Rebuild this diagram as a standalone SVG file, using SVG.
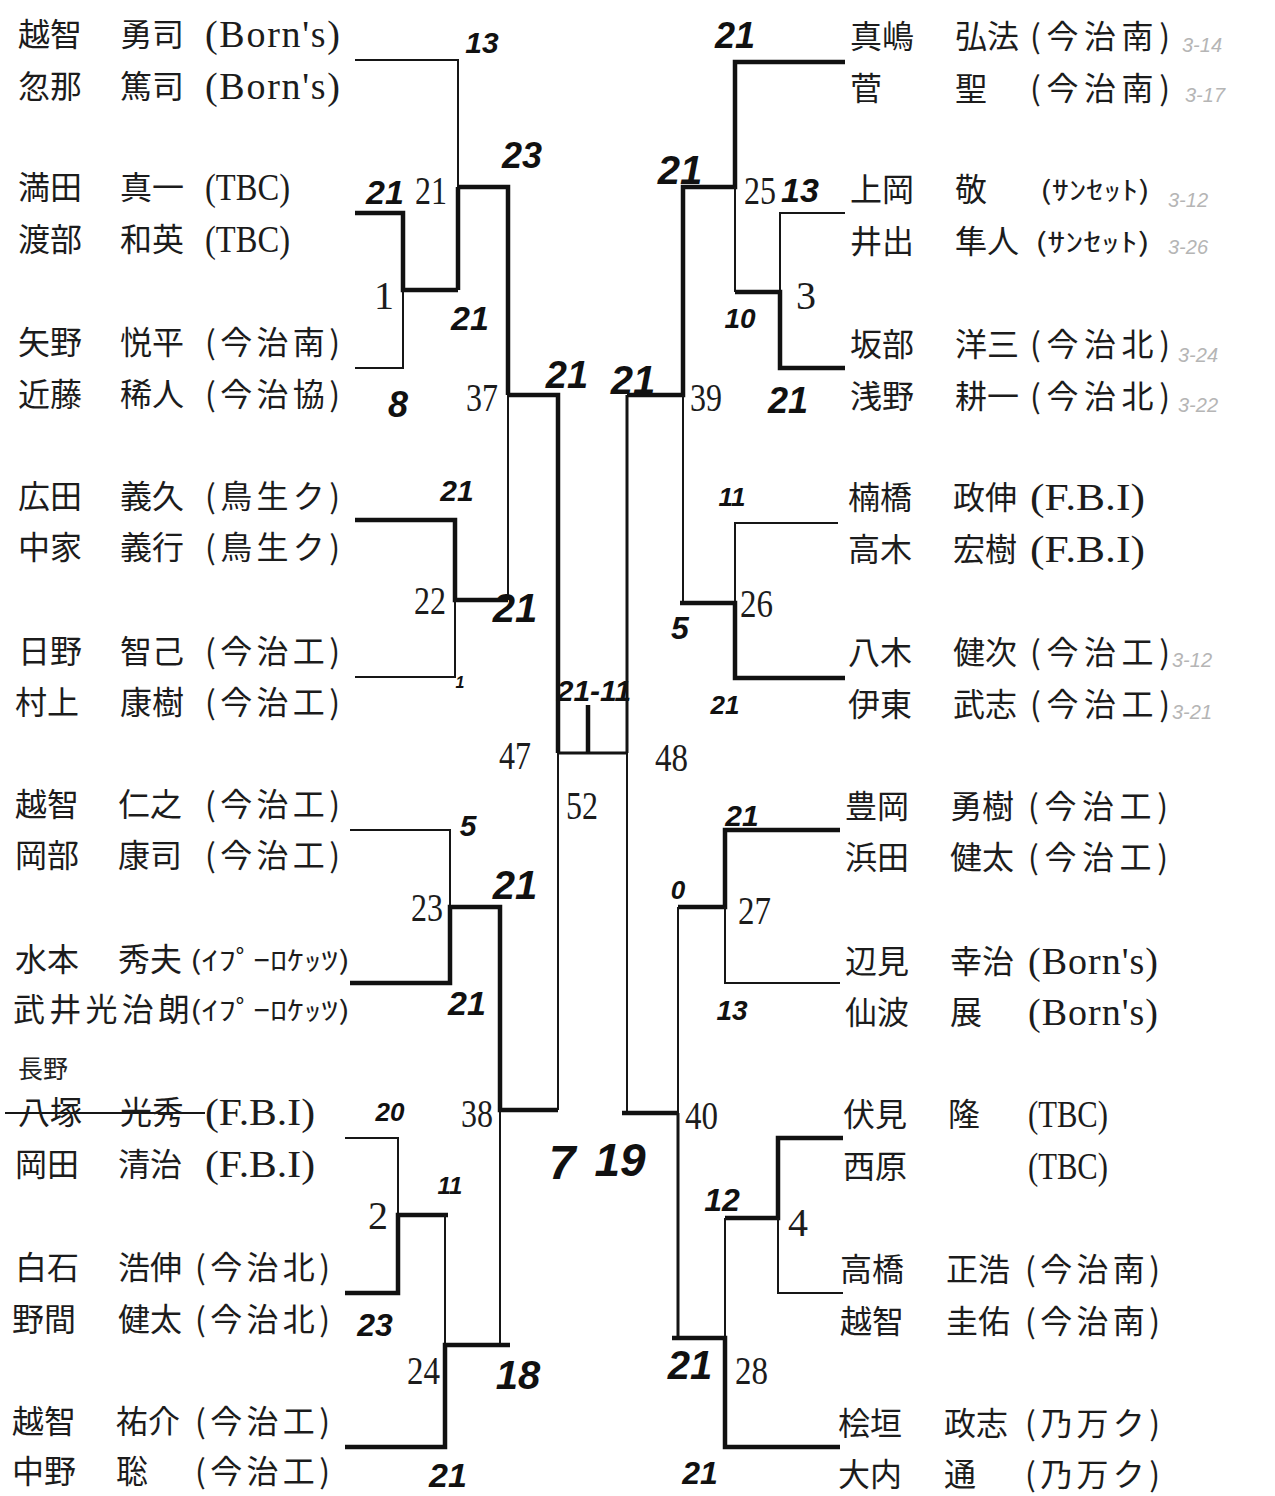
<svg xmlns="http://www.w3.org/2000/svg" width="1275" height="1496" viewBox="0 0 1275 1496">
<style>
.jp{font-family:"Noto Sans CJK JP","Noto Sans CJK SC",sans-serif;font-size:32px;fill:#1c1c1c}
.kn{font-family:"Noto Sans CJK JP","Noto Sans CJK SC",sans-serif;font-size:26px;fill:#1c1c1c}
.lat{font-family:"Liberation Serif",serif;font-size:38px;fill:#1c1c1c}
.num{font-family:"Liberation Serif",serif;font-size:40px;fill:#1c1c1c}
.hw{font-family:"Liberation Sans",sans-serif;font-style:italic;font-weight:bold;fill:#111;text-anchor:middle;dominant-baseline:central}
.hj{font-family:"Noto Sans CJK JP",sans-serif;font-size:25px;fill:#222}
.faint{font-family:"Liberation Sans",sans-serif;font-style:italic;font-size:20px;fill:#b5b5b5;dominant-baseline:central}
.ln{stroke:#161616;stroke-width:2;fill:none}
.md{stroke:#141414;stroke-width:3;fill:none}
.tk{stroke:#111;stroke-width:4.5;fill:none}
</style>
<rect width="1275" height="1496" fill="#ffffff"/>

<g id="connectors">
<path class="ln" d="M355,60 H458 V187"/>
<path class="tk" d="M458,187 V290"/>
<path class="tk" d="M355,213 H403 V290 H458"/>
<path class="ln" d="M403,290 V368 H355"/>
<path class="tk" d="M458,187 H508 V395"/>
<path class="ln" d="M508,395 V600"/>
<path class="tk" d="M508,395 H558 V753"/>
<path class="tk" d="M355,520 H455 V600 H508"/>
<path class="ln" d="M455,600 V677 H355"/>
<path class="ln" d="M558,753 V1110"/>
<path class="ln" d="M350,830 H450 V907"/>
<path class="tk" d="M350,983 H450 V907 H500 V1110 H558"/>
<path class="ln" d="M500,1110 V1345"/>
<path class="ln" d="M345,1138 H398 V1215"/>
<path class="tk" d="M345,1293 H398 V1215 H448"/>
<path class="ln" d="M445,1215 V1345"/>
<path class="tk" d="M345,1447 H445 V1345 H510"/>
<path class="md" d="M558,753 H627"/>
<path class="tk" d="M588,705 V753"/>
<path class="md" d="M627,395 V753"/>
<path class="tk" d="M845,62 H735 V187 H683 V395 H627"/>
<path class="ln" d="M735,187 V292"/>
<path class="ln" d="M845,213 H780 V292"/>
<path class="tk" d="M845,368 H780 V292 H735"/>
<path class="ln" d="M683,395 V603"/>
<path class="ln" d="M838,523 H735 V603"/>
<path class="tk" d="M845,678 H735 V603 H680"/>
<path class="ln" d="M627,753 V1113"/>
<path class="tk" d="M840,830 H725 V907 H678"/>
<path class="ln" d="M725,907 V983 H840"/>
<path class="ln" d="M678,907 V1113"/>
<path class="tk" d="M622,1113 H678"/>
<path class="md" d="M678,1113 V1338"/>
<path class="tk" d="M843,1138 H778 V1218 H725"/>
<path class="ln" d="M778,1218 V1293 H843"/>
<path class="ln" d="M725,1218 V1338"/>
<path class="tk" d="M840,1447 H725 V1338 H672"/>
<path class="ln" d="M5,1113 H205"/>
</g>

<g id="players-left">
<g id="pL01"><text class="jp" x="18" y="46">越智</text><text class="jp" x="120" y="46">勇司</text><text class="lat" x="205" y="47" textLength="135" lengthAdjust="spacing">(Born's)</text></g>
<g id="pL02"><text class="jp" x="18" y="98">忽那</text><text class="jp" x="120" y="98">篤司</text><text class="lat" x="205" y="99" textLength="135" lengthAdjust="spacing">(Born's)</text></g>
<g id="pL03"><text class="jp" x="18" y="199">満田</text><text class="jp" x="120" y="199">真一</text><text class="lat" x="205" y="200" textLength="85" lengthAdjust="spacingAndGlyphs">(TBC)</text></g>
<g id="pL04"><text class="jp" x="18" y="251">渡部</text><text class="jp" x="120" y="251">和英</text><text class="lat" x="205" y="252" textLength="85" lengthAdjust="spacingAndGlyphs">(TBC)</text></g>
<g id="pL05"><text class="jp" x="18" y="354">矢野</text><text class="jp" x="120" y="354">悦平</text><text class="jp" x="205" y="354" textLength="135" lengthAdjust="spacing">(今治南)</text></g>
<g id="pL06"><text class="jp" x="18" y="406">近藤</text><text class="jp" x="120" y="406">稀人</text><text class="jp" x="205" y="406" textLength="135" lengthAdjust="spacing">(今治協)</text></g>
<g id="pL07"><text class="jp" x="18" y="508">広田</text><text class="jp" x="120" y="508">義久</text><text class="jp" x="205" y="508" textLength="135" lengthAdjust="spacing">(鳥生ク)</text></g>
<g id="pL08"><text class="jp" x="18" y="559">中家</text><text class="jp" x="120" y="559">義行</text><text class="jp" x="205" y="559" textLength="135" lengthAdjust="spacing">(鳥生ク)</text></g>
<g id="pL09"><text class="jp" x="18" y="663">日野</text><text class="jp" x="120" y="663">智己</text><text class="jp" x="205" y="663" textLength="135" lengthAdjust="spacing">(今治工)</text></g>
<g id="pL10"><text class="jp" x="15" y="714">村上</text><text class="jp" x="120" y="714">康樹</text><text class="jp" x="205" y="714" textLength="135" lengthAdjust="spacing">(今治工)</text></g>
<g id="pL11"><text class="jp" x="15" y="816">越智</text><text class="jp" x="118" y="816">仁之</text><text class="jp" x="205" y="816" textLength="135" lengthAdjust="spacing">(今治工)</text></g>
<g id="pL12"><text class="jp" x="15" y="867">岡部</text><text class="jp" x="118" y="867">康司</text><text class="jp" x="205" y="867" textLength="135" lengthAdjust="spacing">(今治工)</text></g>
<g id="pL13"><text class="jp" x="15" y="971">水本</text><text class="jp" x="118" y="971">秀夫</text><text class="kn" x="190" y="970" textLength="160" lengthAdjust="spacingAndGlyphs">(ｲﾌﾟｰﾛｹｯﾂ)</text></g>
<g id="pL14"><text class="jp" x="13" y="1021" textLength="177" lengthAdjust="spacing">武井光治朗</text><text class="kn" x="190" y="1020" textLength="160" lengthAdjust="spacingAndGlyphs">(ｲﾌﾟｰﾛｹｯﾂ)</text></g>
<g id="pL15"><text class="hj" x="18" y="1078">長野</text><text class="jp" x="18" y="1124">八塚</text><text class="jp" x="120" y="1124">光秀</text><text class="lat" x="205" y="1125" textLength="110" lengthAdjust="spacingAndGlyphs">(F.B.I)</text></g>
<g id="pL16"><text class="jp" x="15" y="1176">岡田</text><text class="jp" x="118" y="1176">清治</text><text class="lat" x="205" y="1177" textLength="110" lengthAdjust="spacingAndGlyphs">(F.B.I)</text></g>
<g id="pL17"><text class="jp" x="15" y="1279">白石</text><text class="jp" x="118" y="1279">浩伸</text><text class="jp" x="195" y="1279" textLength="135" lengthAdjust="spacing">(今治北)</text></g>
<g id="pL18"><text class="jp" x="12" y="1331">野間</text><text class="jp" x="118" y="1331">健太</text><text class="jp" x="195" y="1331" textLength="135" lengthAdjust="spacing">(今治北)</text></g>
<g id="pL19"><text class="jp" x="12" y="1433">越智</text><text class="jp" x="116" y="1433">祐介</text><text class="jp" x="195" y="1433" textLength="135" lengthAdjust="spacing">(今治工)</text></g>
<g id="pL20"><text class="jp" x="12" y="1483">中野</text><text class="jp" x="116" y="1483">聡</text><text class="jp" x="195" y="1483" textLength="135" lengthAdjust="spacing">(今治工)</text></g>
</g>

<g id="players-right">
<g id="pR01"><text class="jp" x="850" y="48">真嶋</text><text class="jp" x="955" y="48">弘法</text><text class="jp" x="1030" y="48" textLength="140" lengthAdjust="spacing">(今治南)</text></g>
<g id="pR02"><text class="jp" x="850" y="100">菅</text><text class="jp" x="955" y="100">聖</text><text class="jp" x="1030" y="100" textLength="140" lengthAdjust="spacing">(今治南)</text></g>
<g id="pR03"><text class="jp" x="850" y="201">上岡</text><text class="jp" x="955" y="201">敬</text><text class="kn" x="1040" y="200" font-size="22" textLength="110" lengthAdjust="spacingAndGlyphs">(ｻﾝｾｯﾄ)</text></g>
<g id="pR04"><text class="jp" x="850" y="253">井出</text><text class="jp" x="955" y="253">隼人</text><text class="kn" x="1035" y="252" font-size="22" textLength="115" lengthAdjust="spacingAndGlyphs">(ｻﾝｾｯﾄ)</text></g>
<g id="pR05"><text class="jp" x="850" y="356">坂部</text><text class="jp" x="955" y="356">洋三</text><text class="jp" x="1030" y="356" textLength="140" lengthAdjust="spacing">(今治北)</text></g>
<g id="pR06"><text class="jp" x="850" y="408">浅野</text><text class="jp" x="955" y="408">耕一</text><text class="jp" x="1030" y="408" textLength="140" lengthAdjust="spacing">(今治北)</text></g>
<g id="pR07"><text class="jp" x="848" y="509">楠橋</text><text class="jp" x="953" y="509">政伸</text><text class="lat" x="1030" y="510" textLength="115" lengthAdjust="spacingAndGlyphs">(F.B.I)</text></g>
<g id="pR08"><text class="jp" x="848" y="561">高木</text><text class="jp" x="953" y="561">宏樹</text><text class="lat" x="1030" y="562" textLength="115" lengthAdjust="spacingAndGlyphs">(F.B.I)</text></g>
<g id="pR09"><text class="jp" x="848" y="664">八木</text><text class="jp" x="953" y="664">健次</text><text class="jp" x="1030" y="664" textLength="140" lengthAdjust="spacing">(今治工)</text></g>
<g id="pR10"><text class="jp" x="848" y="716">伊東</text><text class="jp" x="953" y="716">武志</text><text class="jp" x="1030" y="716" textLength="140" lengthAdjust="spacing">(今治工)</text></g>
<g id="pR11"><text class="jp" x="845" y="818">豊岡</text><text class="jp" x="950" y="818">勇樹</text><text class="jp" x="1028" y="818" textLength="140" lengthAdjust="spacing">(今治工)</text></g>
<g id="pR12"><text class="jp" x="845" y="869">浜田</text><text class="jp" x="950" y="869">健太</text><text class="jp" x="1028" y="869" textLength="140" lengthAdjust="spacing">(今治工)</text></g>
<g id="pR13"><text class="jp" x="845" y="973">辺見</text><text class="jp" x="950" y="973">幸治</text><text class="lat" x="1028" y="974" textLength="130" lengthAdjust="spacing">(Born's)</text></g>
<g id="pR14"><text class="jp" x="845" y="1024">仙波</text><text class="jp" x="950" y="1024">展</text><text class="lat" x="1028" y="1025" textLength="130" lengthAdjust="spacing">(Born's)</text></g>
<g id="pR15"><text class="jp" x="843" y="1126">伏見</text><text class="jp" x="948" y="1126">隆</text><text class="lat" x="1028" y="1127" textLength="80" lengthAdjust="spacingAndGlyphs">(TBC)</text></g>
<g id="pR16"><text class="jp" x="843" y="1178">西原</text><text class="lat" x="1028" y="1179" textLength="80" lengthAdjust="spacingAndGlyphs">(TBC)</text></g>
<g id="pR17"><text class="jp" x="840" y="1281">高橋</text><text class="jp" x="946" y="1281">正浩</text><text class="jp" x="1025" y="1281" textLength="135" lengthAdjust="spacing">(今治南)</text></g>
<g id="pR18"><text class="jp" x="840" y="1333">越智</text><text class="jp" x="946" y="1333">圭佑</text><text class="jp" x="1025" y="1333" textLength="135" lengthAdjust="spacing">(今治南)</text></g>
<g id="pR19"><text class="jp" x="838" y="1435">桧垣</text><text class="jp" x="944" y="1435">政志</text><text class="jp" x="1025" y="1435" textLength="135" lengthAdjust="spacing">(乃万ク)</text></g>
<g id="pR20"><text class="jp" x="838" y="1486">大内</text><text class="jp" x="944" y="1486">通</text><text class="jp" x="1025" y="1486" textLength="135" lengthAdjust="spacing">(乃万ク)</text></g>
</g>

<g id="matches">
<g id="m21"><text class="num" x="447" y="204" text-anchor="end" textLength="32" lengthAdjust="spacingAndGlyphs">21</text></g>
<g id="m1"><text class="num" x="394" y="309" text-anchor="end">1</text></g>
<g id="m37"><text class="num" x="498" y="411" text-anchor="end" textLength="32" lengthAdjust="spacingAndGlyphs">37</text></g>
<g id="m22"><text class="num" x="446" y="614" text-anchor="end" textLength="32" lengthAdjust="spacingAndGlyphs">22</text></g>
<g id="m47"><text class="num" x="531" y="769" text-anchor="end" textLength="32" lengthAdjust="spacingAndGlyphs">47</text></g>
<g id="m23"><text class="num" x="443" y="921" text-anchor="end" textLength="32" lengthAdjust="spacingAndGlyphs">23</text></g>
<g id="m38"><text class="num" x="493" y="1127" text-anchor="end" textLength="32" lengthAdjust="spacingAndGlyphs">38</text></g>
<g id="m2"><text class="num" x="388" y="1229" text-anchor="end">2</text></g>
<g id="m24"><text class="num" x="440" y="1384" text-anchor="end" textLength="33" lengthAdjust="spacingAndGlyphs">24</text></g>
<g id="m52"><text class="num" x="566" y="819" textLength="32" lengthAdjust="spacingAndGlyphs">52</text></g>
<g id="m25"><text class="num" x="744" y="204" textLength="32" lengthAdjust="spacingAndGlyphs">25</text></g>
<g id="m3"><text class="num" x="796" y="309">3</text></g>
<g id="m39"><text class="num" x="690" y="411" textLength="32" lengthAdjust="spacingAndGlyphs">39</text></g>
<g id="m26"><text class="num" x="740" y="617" textLength="33" lengthAdjust="spacingAndGlyphs">26</text></g>
<g id="m48"><text class="num" x="655" y="771" textLength="33" lengthAdjust="spacingAndGlyphs">48</text></g>
<g id="m27"><text class="num" x="738" y="924" textLength="33" lengthAdjust="spacingAndGlyphs">27</text></g>
<g id="m40"><text class="num" x="685" y="1129" textLength="33" lengthAdjust="spacingAndGlyphs">40</text></g>
<g id="m4"><text class="num" x="788" y="1236">4</text></g>
<g id="m28"><text class="num" x="735" y="1384" textLength="33" lengthAdjust="spacingAndGlyphs">28</text></g>
</g>

<g id="scores">
<text class="hw" x="482" y="42" font-size="30">13</text>
<text class="hw" x="522" y="155" font-size="36">23</text>
<text class="hw" x="385" y="192" font-size="34">21</text>
<text class="hw" x="470" y="318" font-size="34">21</text>
<text class="hw" x="398" y="404" font-size="36">8</text>
<text class="hw" x="567" y="375" font-size="38">21</text>
<text class="hw" x="457" y="490" font-size="30">21</text>
<text class="hw" x="515" y="608" font-size="40">21</text>
<text class="hw" x="460" y="682" font-size="16">1</text>
<text class="hw" x="468" y="825" font-size="30">5</text>
<text class="hw" x="515" y="885" font-size="40">21</text>
<text class="hw" x="467" y="1003" font-size="34">21</text>
<text class="hw" x="390" y="1112" font-size="26">20</text>
<text class="hw" x="450" y="1185" font-size="24">11</text>
<text class="hw" x="375" y="1325" font-size="32">23</text>
<text class="hw" x="518" y="1375" font-size="40">18</text>
<text class="hw" x="448" y="1475" font-size="34">21</text>
<text class="hw" x="562" y="1162" font-size="48">7</text>
<text class="hw" x="620" y="1160" font-size="46">19</text>
<text class="hw" x="594" y="690" font-size="30">21-11</text>
<text class="hw" x="735" y="35" font-size="36">21</text>
<text class="hw" x="680" y="170" font-size="40">21</text>
<text class="hw" x="800" y="190" font-size="34">13</text>
<text class="hw" x="740" y="318" font-size="28">10</text>
<text class="hw" x="788" y="400" font-size="36">21</text>
<text class="hw" x="633" y="380" font-size="40">21</text>
<text class="hw" x="732" y="497" font-size="26">11</text>
<text class="hw" x="680" y="628" font-size="32">5</text>
<text class="hw" x="725" y="705" font-size="26">21</text>
<text class="hw" x="742" y="815" font-size="30">21</text>
<text class="hw" x="678" y="890" font-size="26">0</text>
<text class="hw" x="732" y="1010" font-size="28">13</text>
<text class="hw" x="722" y="1200" font-size="32">12</text>
<text class="hw" x="690" y="1365" font-size="40">21</text>
<text class="hw" x="700" y="1473" font-size="32">21</text>
</g>

<g id="notes">
<text class="faint" x="1182" y="45">3-14</text>
<text class="faint" x="1185" y="95">3-17</text>
<text class="faint" x="1168" y="200" font-size="24">3-12</text>
<text class="faint" x="1168" y="247" font-size="24">3-26</text>
<text class="faint" x="1178" y="355">3-24</text>
<text class="faint" x="1178" y="405">3-22</text>
<text class="faint" x="1172" y="660">3-12</text>
<text class="faint" x="1172" y="712">3-21</text>
</g>
</svg>
